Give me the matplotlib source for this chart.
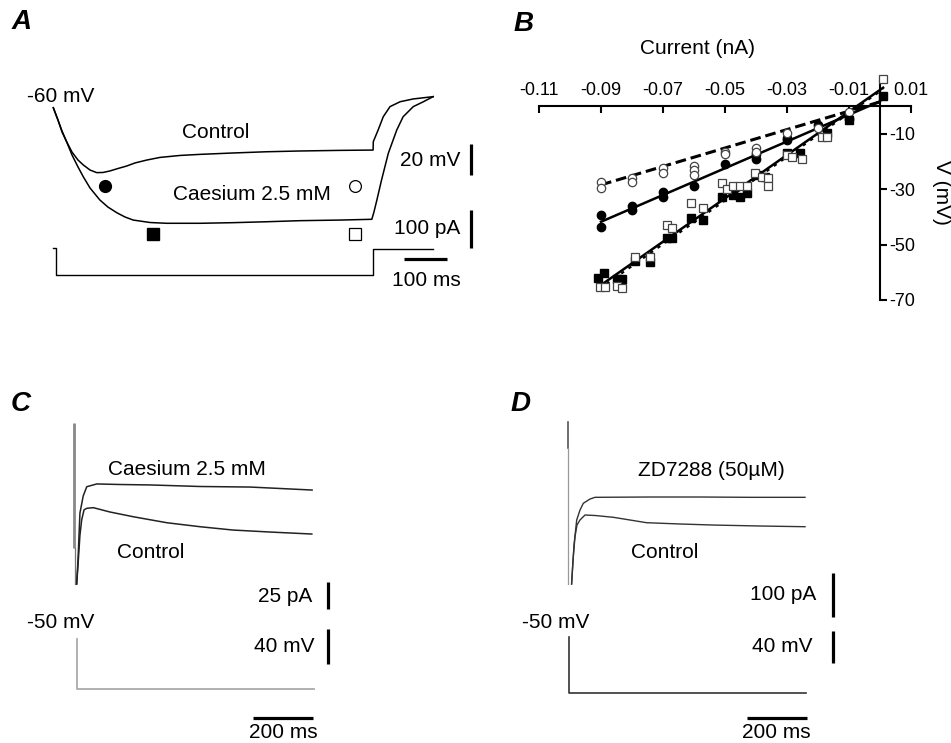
import matplotlib
matplotlib.use('Agg')
import matplotlib.pyplot as plt

plt.rcParams['font.family'] = ['Liberation Sans', 'DejaVu Sans']

# ---------------- data ----------------
# Panel A: voltage responses (ms, mV) and injected current (ms, pA)
A_ctrl_t = [0, 11, 20.6, 31.7, 44.2, 58.4, 70.9, 86.8, 102.6, 117.5, 134, 153, 173.5, 193, 221,
            252, 300, 347, 425, 504, 583, 678, 756, 756.5, 768, 780, 796, 820, 851, 898]
A_ctrl_v = [-60, -68.0, -75.8, -82.3, -88.9, -94.1, -97.3, -100.6, -102.3, -102.2, -101.2, -99.6,
            -98.0, -96.0, -94.1, -92.4, -91.1, -90.4, -89.5, -88.7, -88.2, -87.8, -87.6, -82.1,
            -74.5, -65.9, -59.3, -56.1, -54.3, -52.8]
A_cs_t = [0, 11, 20.6, 31.7, 44.2, 58.4, 70.9, 86.8, 110, 129, 150, 169.5, 189, 229, 268, 347,
          425, 504, 583, 678, 753, 758, 765, 776, 792, 812, 827, 851, 875, 898]
A_cs_v = [-60, -68.0, -75.2, -82.3, -90.8, -98.6, -105.0, -112.3, -120.1, -124.7, -128.4, -131.2,
          -133.2, -134.8, -135.3, -135.3, -134.9, -134.3, -133.6, -133.2, -132.7, -128.0, -120.1,
          -107.1, -89.7, -74.5, -65.9, -59.3, -56.1, -52.8]
A_inj_t = [0, 6, 6, 756, 756, 898]
A_inj_i = [2.6, 2.6, -67.1, -67.1, 0, 0]
A_mark_t = [122.5, 712.8, 236.4, 712.8]
A_mark_v = [-110.8, -111.0, -142.3, -142.3]

# Panel B: I-V relations (nA, mV)
B_cp_x = [-0.09, -0.09, -0.08, -0.08, -0.07, -0.07, -0.06, -0.05, -0.04, -0.04, -0.03, -0.03, -0.02, -0.01]
B_cp_y = [-39.4, -43.6, -36.0, -37.6, -31.0, -33.0, -28.8, -21.0, -17.4, -19.3, -11.5, -12.3, -6.9, -4.9]
B_cs_x = [-0.09, -0.09, -0.08, -0.08, -0.07, -0.07, -0.06, -0.06, -0.06, -0.05, -0.05, -0.04, -0.04,
          -0.03, -0.02, -0.01]
B_cs_y = [-27.3, -29.8, -26.2, -27.3, -22.5, -24.3, -21.7, -23.2, -25.0, -16.5, -17.4, -15.3, -16.5,
          -9.9, -8.1, -2.4]
B_sp_x = [-0.0909, -0.0889, -0.0849, -0.0831, -0.079, -0.0742, -0.0688, -0.0672, -0.0611, -0.0572,
          -0.0511, -0.0473, -0.0452, -0.043, -0.0396, -0.0371, -0.0301, -0.0258, -0.0172, -0.01, 0.0011]
B_sp_y = [-62.2, -60.4, -62.5, -62.5, -55.9, -56.2, -47.8, -47.8, -40.6, -41.0, -32.8, -32.2, -32.8,
          -31.6, -25.0, -25.6, -17.2, -17.2, -9.7, -5.1, 3.5]
B_ss_x = [-0.0903, -0.0887, -0.0849, -0.0831, -0.079, -0.0742, -0.0688, -0.0672, -0.0611, -0.0572,
          -0.0511, -0.0495, -0.0473, -0.0452, -0.043, -0.0403, -0.0382, -0.036, -0.036, -0.0301,
          -0.0285, -0.0253, -0.0188, -0.0172, 0.0011]
B_ss_y = [-65.2, -65.4, -64.9, -65.8, -54.4, -54.4, -43.0, -43.9, -35.2, -37.0, -28.0, -30.1, -28.9,
          -28.9, -28.9, -24.3, -25.6, -26.2, -28.9, -17.7, -18.3, -19.2, -11.4, -11.4, 9.6]
B_fit_cp = ([-0.09, 0.0], [-41.8, 1.6])
B_fit_cs = ([-0.09, 0.0], [-28.5, 1.4])
B_fit_sp = ([-0.0905, 0.001], [-65.0, 6.5])
B_fit_ss = ([-0.0905, 0.001], [-66.0, 6.0])
B_xticks = [-0.11, -0.09, -0.07, -0.05, -0.03, -0.01, 0.01]
B_xticklabels = ['-0.11', '-0.09', '-0.07', '-0.05', '-0.03', '-0.01', '0.01']
B_yticks = [-10, -30, -50, -70]
B_yticklabels = ['-10', '-30', '-50', '-70']

# Panel C: currents (ms, pA), voltage (ms, mV)
C_cs_t = [9, 13.5, 20, 31, 43, 77, 155, 256, 425, 594, 695, 803]
C_cs_i = [0, 21.7, 64, 79.4, 87.8, 90.3, 89.8, 89.4, 88, 87.5, 86.2, 84.8]
C_ct_t = [9, 13.5, 20, 26, 34, 43, 65, 121, 200, 313, 425, 536, 661, 802]
C_ct_i = [0, 17, 44, 58, 67, 68.3, 68.9, 65, 60.7, 55.3, 51.7, 48.7, 46.9, 45.1]
C_tr_i = [145.3, 32.5, 0]
C_v_t = [11, 11, 808]
C_v_v = [-50, -107.6, -107.6]

# Panel D
D_zd_t = [11, 19, 28, 39, 50, 72, 89, 272, 439, 606, 789]
D_zd_i = [0, 88.6, 145.5, 168, 183.4, 193, 197, 197.7, 197.7, 197, 197]
D_ct_t = [11, 15.7, 22.3, 29, 39, 55.7, 89, 150, 261, 372, 483, 639, 789]
D_ct_i = [0, 54.5, 107.5, 134, 145.5, 156.8, 155.7, 151.6, 139.3, 136.4, 134, 131.8, 130.2]
D_tr_i = [369, 309, 0]
D_v_t = [3.3, 3.3, 792]
D_v_v = [-50, -119.3, -119.3]

# ---------------- figure ----------------
W, H = 951, 743
fig = plt.figure(figsize=(W / 100, H / 100), dpi=100)
FS = 15


def px_axes(l, t, r, b):
    return fig.add_axes([l / W, 1 - b / H, (r - l) / W, (b - t) / H])


def trace_axes(box, x0, xppu, y0, yppu):
    l, t, r, b = box
    ax = px_axes(l, t, r, b)
    ax.set_xlim((l - x0) / xppu, (r - x0) / xppu)
    ax.set_ylim((y0 - b) / yppu, (y0 - t) / yppu)
    ax.axis('off')
    return ax


def ftext(x, y, s, ha='center', va='center', **kw):
    kw.setdefault('fontsize', FS)
    fig.text(x / W, 1 - y / H, s, ha=ha, va=va, **kw)


def vbar(ax, x, ytop, length):
    ax.plot([x, x], [ytop, ytop - length], color='black', lw=2.3, solid_capstyle='butt', clip_on=False)


def hbar(ax, x0, y, length):
    ax.plot([x0, x0 + length], [y, y], color='black', lw=2.3, solid_capstyle='butt', clip_on=False)


lab = dict(fontsize=20, fontweight='bold', fontstyle='italic')
ftext(22, 22, 'A', **lab)
ftext(524, 24, 'B', **lab)
ftext(21, 404, 'C', **lab)
ftext(521, 404, 'D', **lab)

# ---- Panel A ----
axAv = trace_axes((0, 60, 480, 300), 53.3, 0.423, 15.6, 1.535)
axAi = trace_axes((0, 60, 480, 300), 53.3, 0.423, 249.3, 0.383)
axAv.plot(A_ctrl_t, A_ctrl_v, color='black', lw=1.1, clip_on=False)
axAv.plot(A_cs_t, A_cs_v, color='black', lw=1.1, clip_on=False)
axAi.plot(A_inj_t, A_inj_i, color='black', lw=1.0, clip_on=False)
axAv.plot(A_mark_t[0], A_mark_v[0], 'o', ms=8.5, color='black')
axAv.plot(A_mark_t[1], A_mark_v[1], 'o', ms=8.5, mfc='white', mec='black', mew=0.9)
axAv.plot(A_mark_t[2], A_mark_v[2], 's', ms=8.5, color='black')
axAv.plot(A_mark_t[3], A_mark_v[3], 's', ms=8.5, mfc='white', mec='black', mew=0.9)
vbar(axAv, 986.8, -83.8, 20)
vbar(axAi, 986.8, 102.6, 100)
hbar(axAi, 829.8, -25.3, 100)
ftext(61, 97, '-60 mV')
ftext(216, 132, 'Control')
ftext(252, 195, 'Caesium 2.5 mM')
ftext(460, 160, '20 mV', ha='right')
ftext(460, 229, '100 pA', ha='right')
ftext(426, 280, '100 ms')

# ---- Panel B ----
axB = px_axes(539, 80.8, 911, 300)
axB.set_facecolor('none')
axB.set_xlim(-0.11, 0.01)
axB.set_ylim(-70, 9)
axB.spines['left'].set_visible(False)
axB.spines['bottom'].set_visible(False)
axB.spines['right'].set_position(('data', 0))
axB.spines['top'].set_position(('data', 0))
for s in ('right', 'top'):
    axB.spines[s].set_linewidth(1.5)
axB.xaxis.set_ticks_position('top')
axB.yaxis.set_ticks_position('right')
axB.set_xticks(B_xticks)
axB.set_xticklabels(B_xticklabels)
axB.set_yticks(B_yticks)
axB.set_yticklabels(B_yticklabels)
axB.tick_params(axis='x', direction='in', length=5, width=1.5, labelsize=13, pad=5)
axB.tick_params(axis='y', direction='out', length=5, width=1.5, labelsize=13, pad=2)

axB.plot(*B_fit_cs, color='black', lw=2.2, ls=(0, (3.5, 1.6)), zorder=3)
axB.plot(*B_fit_cp, color='black', lw=1.8, zorder=3)
axB.plot(*B_fit_sp, color='black', lw=1.8, zorder=3)
axB.plot(*B_fit_ss, color='black', lw=1.6, ls=(0, (1.5, 2.5)), zorder=3)
axB.plot(B_cp_x, B_cp_y, 'o', ms=6, color='black', zorder=4, clip_on=False)
axB.plot(B_cs_x, B_cs_y, 'o', ms=6, mfc='white', mec='#444444', mew=0.9, zorder=4, clip_on=False)
axB.plot(B_sp_x, B_sp_y, 's', ms=6, color='black', zorder=4, clip_on=False)
axB.plot(B_ss_x, B_ss_y, 's', ms=6, mfc='white', mec='#444444', mew=0.9, zorder=5, clip_on=False)
ftext(698, 48, 'Current (nA)')
ftext(942, 192, 'V (mV)', rotation=270)

# ---- Panel C ----
axCi = trace_axes((0, 400, 480, 743), 74, 0.2965, 584, 1.108)
axCv = trace_axes((0, 400, 480, 743), 74, 0.2965, 595.9, 0.8675)
axCi.plot([0, 0], C_tr_i[:2], color='#888888', lw=2.0, solid_capstyle='butt', clip_on=False)
axCi.plot([2, 2], C_tr_i[1:], color='#777777', lw=0.9, clip_on=False)
axCi.plot(C_cs_t, C_cs_i, color='#222222', lw=1.1, clip_on=False)
axCi.plot(C_ct_t, C_ct_i, color='#222222', lw=1.1, clip_on=False)
axCv.plot(C_v_t, C_v_v, color='#aaaaaa', lw=1.3, clip_on=False)
vbar(axCi, 857.7, 2.1, 25)
vbar(axCv, 857.7, -38.5, 40)
hbar(axCv, 604.7, -141.1, 200)
ftext(187, 470, 'Caesium 2.5 mM')
ftext(151, 552, 'Control')
ftext(312, 597, '25 pA', ha='right')
ftext(61, 622, '-50 mV')
ftext(315, 647, '40 mV', ha='right')
ftext(283, 732, '200 ms')

# ---- Panel D ----
axDi = trace_axes((480, 400, 951, 743), 568.3, 0.3, 584, 0.44)
axDv = trace_axes((480, 400, 951, 743), 568.3, 0.3, 597.3, 0.8)
axDi.plot([0, 0], D_tr_i[:2], color='#555555', lw=1.2, clip_on=False)
axDi.plot([0, 0], D_tr_i[1:], color='#999999', lw=0.9, clip_on=False)
axDi.plot(D_zd_t, D_zd_i, color='#333333', lw=1.0, clip_on=False)
axDi.plot(D_ct_t, D_ct_i, color='#333333', lw=1.0, clip_on=False)
axDv.plot(D_v_t, D_v_v, color='#333333', lw=1.2, clip_on=False)
vbar(axDi, 881.3, 24.3, 100)
vbar(axDv, 881.3, -41.75, 40)
hbar(axDv, 594.7, -151.25, 200)
ftext(711, 471, 'ZD7288 (50µM)')
ftext(664.5, 552, 'Control')
ftext(816.7, 594, '100 pA', ha='right')
ftext(556, 622, '-50 mV')
ftext(812, 647, '40 mV', ha='right')
ftext(776.7, 732, '200 ms')

fig.savefig('out.png', dpi=100)
